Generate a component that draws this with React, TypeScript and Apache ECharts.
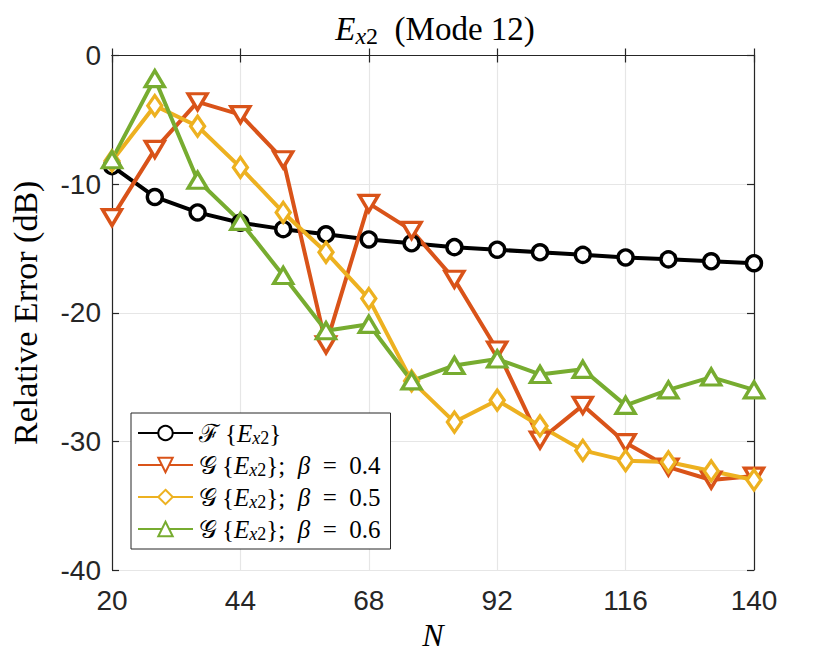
import React, { useEffect, useRef } from "react";
import * as echarts from "echarts";

const N = [20, 28, 36, 44, 52, 60, 68, 76, 84, 92, 100, 108, 116, 124, 132, 140];
const F_Ex2 = [-8.6, -11.0, -12.2, -13.0, -13.5, -13.9, -14.3, -14.6, -14.9, -15.1, -15.3, -15.5, -15.7, -15.85, -16.0, -16.15];
const G_b04 = [-12.6, -7.3, -3.6, -4.6, -8.1, -22.5, -11.5, -13.6, -17.4, -22.9, -29.9, -27.2, -30.1, -32.0, -33.0, -32.7];
const G_b05 = [-8.2, -3.9, -5.5, -8.7, -12.2, -15.3, -18.9, -25.3, -28.5, -26.8, -28.8, -30.7, -31.5, -31.6, -32.3, -33.0];
const G_b06 = [-8.1, -1.8, -9.7, -12.9, -17.1, -21.4, -20.9, -25.3, -24.1, -23.6, -24.8, -24.4, -27.2, -26.0, -25.0, -26.0];
const Y_TICKS = { min: -40, max: 0, step: 10 };
const SERIES_NAMES = ["ℱ{Ex2}", "𝒢{Ex2}; β = 0.4", "𝒢{Ex2}; β = 0.5", "𝒢{Ex2}; β = 0.6"];
const LEGEND_RICH: Record<string, string> = {
  "ℱ{Ex2}": "{n|ℱ\u2009{}{i|E}{subi|x}{sub|2}}",
  "𝒢{Ex2}; β = 0.4": "{n|𝒢\u2009{}{i|E}{subi|x}{sub|2}};  {i|β}{n|  =  0.4}",
  "𝒢{Ex2}; β = 0.5": "{n|𝒢\u2009{}{i|E}{subi|x}{sub|2}};  {i|β}{n|  =  0.5}",
  "𝒢{Ex2}; β = 0.6": "{n|𝒢\u2009{}{i|E}{subi|x}{sub|2}};  {i|β}{n|  =  0.6}",
};
const COLORS = ["#000000", "#D95319", "#EDB120", "#77AC30"];

const SERIF = "'Liberation Serif', 'DejaVu Serif', serif";
const SANS = "'Liberation Sans', Arial, sans-serif";
const AX = "#262626";

export default function App() {
  const ref = useRef<HTMLDivElement>(null);
  useEffect(() => {
    const chart = echarts.init(ref.current!, null, { renderer: "svg" });
    const cats = N.map(String);
    const mk = (name: string, data: number[], color: string, symbol: string, size: any, rotate: number) => ({
      name,
      type: "line",
      data,
      symbol,
      symbolSize: size,
      symbolRotate: rotate,
      showAllSymbol: true,
      color,
      lineStyle: { color, width: 4 },
      itemStyle: { color: "#ffffff", borderColor: color, borderWidth: 3.4 },
      emphasis: { disabled: true },
      z: 3,
    });
    const legendText = { fontFamily: SERIF, fontSize: 25, fontWeight: "normal", color: "#000", lineHeight: 28 };
    const tBase = { fontFamily: SERIF, fontWeight: "normal", color: "#000" };
    chart.setOption({
      animation: false,
      backgroundColor: "#ffffff",
      title: {
        text: "{ti|E}{tsubi|x}{tsub|2}{t|\u2002(Mode 12)}",
        left: 430,
        textAlign: "center",
        top: 5,
        textStyle: {
          fontWeight: "normal",
          rich: {
            t: { ...tBase, fontSize: 33, lineHeight: 38 },
            ti: { ...tBase, fontSize: 33, fontStyle: "italic", lineHeight: 38 },
            tsubi: { ...tBase, fontSize: 24, fontStyle: "italic", lineHeight: 25, verticalAlign: "bottom" },
            tsub: { ...tBase, fontSize: 24, lineHeight: 25, verticalAlign: "bottom" },
          },
        },
      },
      grid: { left: 109.5, right: 76, top: 55.5, bottom: 93, containLabel: false },
      legend: {
        orient: "vertical",
        left: 131,
        top: 413,
        data: SERIES_NAMES,
        itemWidth: 55,
        itemHeight: 18,
        itemGap: 4,
        padding: [6, 10, 6, 6],
        backgroundColor: "#ffffff",
        borderColor: AX,
        borderWidth: 1,
        borderRadius: 0,
        selectedMode: false,
        formatter: (name: string) => LEGEND_RICH[name],
        textStyle: {
          ...legendText,
          padding: [0, 0, 0, 1],
          rich: {
            n: { ...legendText },
            i: { ...legendText, fontStyle: "italic" },
            subi: { fontFamily: SERIF, fontSize: 18, fontStyle: "italic", color: "#000", lineHeight: 20, verticalAlign: "bottom" },
            sub: { fontFamily: SERIF, fontSize: 18, color: "#000", lineHeight: 20, verticalAlign: "bottom" },
          },
        },
      },
      xAxis: [
        {
          type: "category",
          data: cats,
          boundaryGap: false,
          name: "N",
          nameLocation: "middle",
          nameGap: 48,
          nameTextStyle: { fontFamily: SERIF, fontSize: 32, fontStyle: "italic", color: "#000" },
          axisLine: { show: true, lineStyle: { color: AX, width: 1.2 } },
          axisTick: { show: true, inside: true, length: 7, interval: 2, lineStyle: { color: AX, width: 1.2 } },
          axisLabel: { interval: 2, margin: 16, fontFamily: SANS, fontSize: 28, color: AX },
          splitLine: { show: true, interval: 2, lineStyle: { color: "#e6e6e6", width: 1.2 } },
        },
        {
          type: "category",
          data: cats,
          boundaryGap: false,
          position: "top",
          axisLine: { show: true, lineStyle: { color: AX, width: 1.2 } },
          axisTick: { show: true, inside: true, length: 7, interval: 2, lineStyle: { color: AX, width: 1.2 } },
          axisLabel: { show: false },
          splitLine: { show: false },
        },
      ],
      yAxis: [
        {
          type: "value",
          min: Y_TICKS.min,
          max: Y_TICKS.max,
          interval: Y_TICKS.step,
          name: "Relative Error (dB)",
          nameLocation: "middle",
          nameGap: 70,
          nameTextStyle: { fontFamily: SERIF, fontSize: 34, color: "#000" },
          axisLine: { show: true, lineStyle: { color: AX, width: 1.2 } },
          axisTick: { show: true, inside: true, length: 7, lineStyle: { color: AX, width: 1.2 } },
          axisLabel: { margin: 11, fontFamily: SANS, fontSize: 28, color: AX },
          splitLine: { show: true, lineStyle: { color: "#e6e6e6", width: 1.2 } },
        },
        {
          type: "value",
          min: Y_TICKS.min,
          max: Y_TICKS.max,
          interval: Y_TICKS.step,
          position: "right",
          axisLine: { show: true, lineStyle: { color: AX, width: 1.2 } },
          axisTick: { show: true, inside: true, length: 7, lineStyle: { color: AX, width: 1.2 } },
          axisLabel: { show: false },
          splitLine: { show: false },
        },
      ],
      series: [
        mk(SERIES_NAMES[0], F_Ex2, COLORS[0], "circle", 15, 0),
        mk(SERIES_NAMES[1], G_b04, COLORS[1], "triangle", [19, 16], 180),
        mk(SERIES_NAMES[2], G_b05, COLORS[2], "diamond", [14, 20], 0),
        mk(SERIES_NAMES[3], G_b06, COLORS[3], "triangle", [19, 16], 0),
      ],
    });
    return () => chart.dispose();
  }, []);
  return (
    <div
      ref={ref}
      style={{ position: "fixed", left: 0, top: 0, width: 830, height: 663, background: "#fff" }}
    />
  );
}
